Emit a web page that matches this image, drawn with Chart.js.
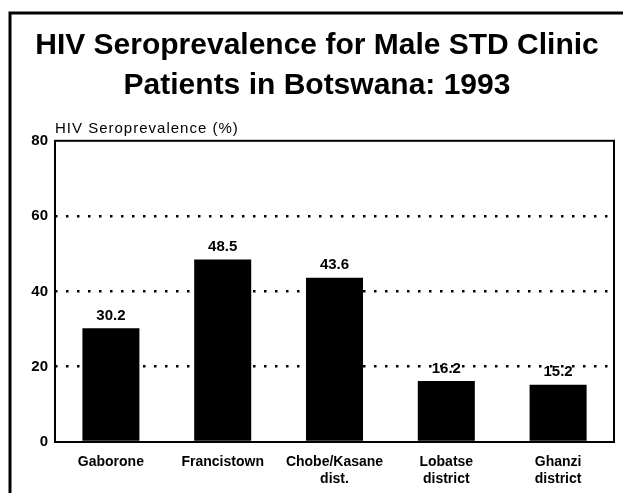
<!DOCTYPE html>
<html>
<head>
<meta charset="utf-8">
<script src="https://cdn.jsdelivr.net/npm/chart.js@4"></script>
<style>
  body { margin: 0; background: #fff; }
  canvas { display: block; }
</style>
</head>
<body>
<canvas id="grafico" width="623" height="493"></canvas>
<script>
const titulo = ['HIV Seroprevalence for Male STD Clinic', 'Patients in Botswana: 1993'];
const tituloEje = 'HIV Seroprevalence (%)';
const regiones = ['Gaborone', 'Francistown', ['Chobe/Kasane', 'dist.'], ['Lobatse', 'district'], ['Ghanzi', 'district']];
const prevalencia = [30.2, 48.5, 43.6, 16.2, 15.2];
const etiquetas = ['30.2', '48.5', '43.6', '16.2', '15.2'];
const marcasY = [0, 20, 40, 60, 80];

const fuente = "'Liberation Sans', Arial, sans-serif";

// marco, caja del grafico, titulo del eje y valores sobre las barras
const extras = {
    id: 'extras',
    beforeDraw(chart) {
        const ctx = chart.ctx;
        ctx.save();
        ctx.fillStyle = '#fff';
        ctx.fillRect(0, 0, chart.width, chart.height);
        ctx.strokeStyle = '#000';
        ctx.lineWidth = 3;
        ctx.beginPath();
        ctx.moveTo(10, chart.height);
        ctx.lineTo(10, 13);
        ctx.lineTo(chart.width, 13);
        ctx.stroke();
        ctx.restore();
    },
    afterDraw(chart) {
        const ctx = chart.ctx;
        const a = chart.chartArea;
        ctx.save();
        ctx.strokeStyle = '#000';
        ctx.lineWidth = 2;
        ctx.strokeRect(a.left, a.top, a.right - a.left, a.bottom - a.top);

        ctx.fillStyle = '#000';
        ctx.font = '15px ' + fuente;
        ctx.letterSpacing = '1px';
        ctx.textAlign = 'left';
        ctx.textBaseline = 'alphabetic';
        ctx.fillText(tituloEje, a.left, a.top - 8);
        ctx.letterSpacing = '0px';

        ctx.font = 'bold 15px ' + fuente;
        ctx.textAlign = 'center';
        ctx.textBaseline = 'bottom';
        const meta = chart.getDatasetMeta(0);
        meta.data.forEach((bar, i) => {
            ctx.fillText(etiquetas[i], bar.x, bar.y - 5);
        });
        ctx.restore();
    }
};

new Chart(document.getElementById('grafico'), {
    type: 'bar',
    data: {
        labels: regiones,
        datasets: [{
            data: prevalencia,
            backgroundColor: '#000',
            borderWidth: 0,
            categoryPercentage: 1,
            barPercentage: 0.51
        }]
    },
    options: {
        responsive: false,
        animation: false,
        layout: { padding: { left: 20, right: 9, top: 0, bottom: 0 } },
        plugins: {
            legend: { display: false },
            tooltip: { enabled: false },
            title: {
                display: true,
                text: titulo,
                color: '#000',
                font: { family: fuente, size: 30, weight: 'bold', lineHeight: 1.33 },
                padding: { top: 26, bottom: 35 }
            }
        },
        scales: {
            x: {
                grid: { display: false },
                border: { display: false },
                ticks: {
                    color: '#000',
                    padding: 3,
                    maxRotation: 0,
                    autoSkip: false,
                    font: { family: fuente, size: 14, weight: 'bold', lineHeight: 1.25 }
                },
                afterFit(scale) { scale.height = 51; }
            },
            y: {
                min: 0,
                max: 80,
                afterBuildTicks(scale) { scale.ticks = marcasY.map(v => ({ value: v })); },
                grid: {
                    drawTicks: false,
                    lineWidth: 2.5,
                    color: c => (c.tick && c.tick.value > 0 && c.tick.value < 80) ? '#000' : 'rgba(0,0,0,0)'
                },
                border: { display: false, dash: [2.5, 8.5] },
                ticks: {
                    color: '#000',
                    padding: 7,
                    font: { family: fuente, size: 15, weight: 'bold' }
                },
                afterFit(scale) { scale.width = 35; }
            }
        }
    },
    plugins: [extras]
});
</script>
</body>
</html>
